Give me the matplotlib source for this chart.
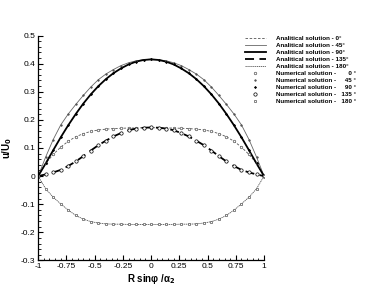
import numpy as np
import matplotlib
matplotlib.use("Agg")
import matplotlib.pyplot as plt
from matplotlib.ticker import MultipleLocator, FormatStrFormatter

plt.rcParams['font.family'] = ['Liberation Sans', 'DejaVu Sans']
plt.rcParams['axes.unicode_minus'] = False

# --- data ---
x = np.linspace(-1, 1, 31)

u_0 = [0, 0.045, 0.077, 0.103, 0.124, 0.140, 0.151, 0.159, 0.164, 0.167, 0.169, 0.170, 0.171, 0.171, 0.172, 0.172,
       0.172, 0.171, 0.171, 0.170, 0.169, 0.167, 0.164, 0.159, 0.151, 0.140, 0.124, 0.103, 0.077, 0.045, 0]
u_45 = [0, 0.068, 0.130, 0.182, 0.221, 0.255, 0.287, 0.317, 0.343, 0.363, 0.379, 0.393, 0.403, 0.410, 0.414, 0.416,
        0.414, 0.410, 0.403, 0.393, 0.379, 0.363, 0.343, 0.317, 0.287, 0.255, 0.221, 0.182, 0.130, 0.068, 0]
u_90 = [0, 0.045, 0.092, 0.138, 0.181, 0.221, 0.258, 0.291, 0.320, 0.345, 0.366, 0.383, 0.397, 0.407, 0.413, 0.415,
        0.413, 0.407, 0.397, 0.383, 0.366, 0.345, 0.320, 0.291, 0.258, 0.221, 0.181, 0.138, 0.092, 0.045, 0]
u_135 = [0, 0.006, 0.013, 0.022, 0.036, 0.052, 0.071, 0.091, 0.110, 0.126, 0.141, 0.153, 0.163, 0.169, 0.172, 0.173,
         0.172, 0.169, 0.163, 0.153, 0.141, 0.126, 0.110, 0.091, 0.071, 0.052, 0.036, 0.022, 0.013, 0.006, 0]
u_180 = [0, -0.045, -0.075, -0.099, -0.121, -0.140, -0.153, -0.162, -0.167, -0.170, -0.171, -0.171, -0.172, -0.172, -0.172, -0.172,
         -0.172, -0.172, -0.172, -0.171, -0.171, -0.170, -0.167, -0.162, -0.153, -0.140, -0.121, -0.099, -0.075, -0.045, 0]

x_ticks = [-1, -0.75, -0.5, -0.25, 0, 0.25, 0.5, 0.75, 1]

# --- figure ---
fig = plt.figure(figsize=(3.74, 2.91), dpi=100)
ax = fig.add_axes([0.102, 0.105, 0.604, 0.773])

gray = '#555555'
ax.plot(x, u_0, color=gray, lw=0.6, dashes=(3, 2), label='Analitical solution - 0°')
ax.plot(x, u_45, color='#666666', lw=0.6, label='Analitical solution - 45°')
ax.plot(x, u_90, color='black', lw=1.3, label='Analitical solution - 90°')
ax.plot(x, u_135, color='black', lw=1.3, dashes=(5, 3), label='Analitical solution - 135°')
ax.plot(x, u_180, color=gray, lw=0.6, dashes=(1.5, 0.8), label='Analitical solution - 180°')

ax.plot(x, u_0, ls='none', marker='o', ms=1.8, mfc='white', mec=gray, mew=0.5,
        label='Numerical solution -       0 °')
ax.plot(x, u_45, ls='none', marker='o', ms=1.2, mfc=gray, mec=gray, mew=0.4,
        label='Numerical solution -     45 °')
ax.plot(x, u_90, ls='none', marker='D', ms=1.2, mfc='black', mec='black', mew=0.4,
        label='Numerical solution -     90 °')
ax.plot(x, u_135, ls='none', marker='o', ms=2.4, mfc='white', mec='black', mew=0.5,
        label='Numerical solution -   135 °')
ax.plot(x, u_180, ls='none', marker='s', ms=1.7, mfc='white', mec=gray, mew=0.5,
        label='Numerical solution -   180 °')

ax.set_xlim(-1, 1)
ax.set_ylim(-0.3, 0.5)
ax.set_xticks(x_ticks)
ax.xaxis.set_major_formatter(FormatStrFormatter('%g'))
ax.yaxis.set_major_locator(MultipleLocator(0.1))
ax.yaxis.set_major_formatter(FormatStrFormatter('%g'))
ax.xaxis.set_minor_locator(MultipleLocator(0.05))
ax.yaxis.set_minor_locator(MultipleLocator(0.02))
ax.tick_params(which='both', direction='in', labelsize=6, pad=2)
ax.tick_params(which='major', length=3.5, width=0.8)
ax.tick_params(which='minor', length=1.8, width=0.6)
ax.spines['top'].set_visible(False)
ax.spines['right'].set_visible(False)
for s in ['left', 'bottom']:
    ax.spines[s].set_linewidth(0.9)

ax.set_xlabel(r'R sinφ /α$_\mathbf{2}$', fontsize=7, fontweight='bold', labelpad=1)
ax.set_ylabel(r'u/U$_\mathbf{0}$', fontsize=7, fontweight='bold')
ax.yaxis.set_label_coords(-0.105, 0.5)

leg = ax.legend(loc='upper left', bbox_to_anchor=(0.648, 0.885), bbox_transform=fig.transFigure,
                frameon=False, handlelength=3.4, handletextpad=1.6, labelspacing=0.26,
                prop={'size': 4.5, 'weight': 'bold'}, borderaxespad=0)

fig.savefig('out.png', dpi=100)
